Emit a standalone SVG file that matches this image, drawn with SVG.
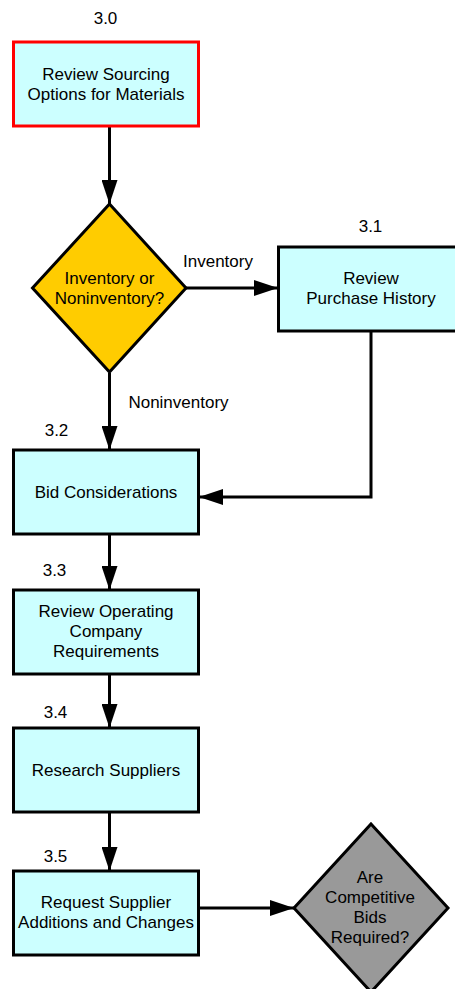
<svg xmlns="http://www.w3.org/2000/svg" width="455" height="989" viewBox="0 0 455 989">
  <style>
    text { font-family: "Liberation Sans", Arial, sans-serif; font-size: 17px; fill: #000; text-anchor: middle; }
    .box { fill: #CCFFFF; stroke: #000; stroke-width: 3; }
    .start { stroke: #FF0000; }
    .decision { fill: #FFCC00; stroke: #000; stroke-width: 3; stroke-linejoin: miter; }
    .decision.grey { fill: #999999; }
    .edge { fill: none; stroke: #000; stroke-width: 3; marker-end: url(#arrow); }
  </style>
  <defs>
    <marker id="arrow" markerUnits="userSpaceOnUse" markerWidth="24" markerHeight="16" refX="24" refY="8" orient="auto">
      <path d="M0,0 L24,8 L0,16 z" fill="#000"/>
    </marker>
  </defs>

  <!-- connectors -->
  <g id="connectors">
    <path class="edge" d="M109.5,127 L109.5,204"/>
    <path class="edge" d="M186,288 L278,288"/>
    <path class="edge" d="M109.5,373 L109.5,450"/>
    <path class="edge" d="M371,331 L371,497 L199,497"/>
    <path class="edge" d="M109.5,534 L109.5,590"/>
    <path class="edge" d="M109.5,674 L109.5,728"/>
    <path class="edge" d="M109.5,813 L109.5,871"/>
    <path class="edge" d="M199,908 L294,908"/>
    <text x="218" y="267">Inventory</text>
    <text x="178.5" y="408">Noninventory</text>
  </g>

  <!-- 3.0 -->
  <g id="n30">
    <text x="105.5" y="24">3.0</text>
    <rect class="box start" x="13.5" y="42" width="185" height="84"/>
    <text x="106" y="80">Review Sourcing</text>
    <text x="106" y="100">Options for Materials</text>
  </g>

  <!-- inventory decision -->
  <g id="d_inventory">
    <polygon class="decision" points="109.5,204 186,288 109.5,372 32.5,288"/>
    <text x="109.5" y="284">Inventory or</text>
    <text x="109.5" y="304">Noninventory?</text>
  </g>

  <!-- 3.1 -->
  <g id="n31">
    <text x="370.5" y="232">3.1</text>
    <rect class="box" x="278.5" y="247" width="190" height="84"/>
    <text x="371" y="284">Review</text>
    <text x="371" y="304">Purchase History</text>
  </g>

  <!-- 3.2 -->
  <g id="n32">
    <text x="56.5" y="436">3.2</text>
    <rect class="box" x="13.5" y="450" width="185" height="84"/>
    <text x="106" y="498">Bid Considerations</text>
  </g>

  <!-- 3.3 -->
  <g id="n33">
    <text x="54.5" y="576">3.3</text>
    <rect class="box" x="13.5" y="590" width="185" height="84"/>
    <text x="106" y="617">Review Operating</text>
    <text x="106" y="637">Company</text>
    <text x="106" y="657">Requirements</text>
  </g>

  <!-- 3.4 -->
  <g id="n34">
    <text x="55.5" y="718">3.4</text>
    <rect class="box" x="13.5" y="728" width="185" height="84"/>
    <text x="106" y="776">Research Suppliers</text>
  </g>

  <!-- 3.5 -->
  <g id="n35">
    <text x="55.5" y="862">3.5</text>
    <rect class="box" x="13.5" y="871" width="185" height="84"/>
    <text x="106" y="908">Request Supplier</text>
    <text x="106" y="928">Additions and Changes</text>
  </g>

  <!-- competitive bids decision -->
  <g id="d_bids">
    <polygon class="decision grey" points="371,824 448,908 371,992 294,908"/>
    <text x="370" y="883">Are</text>
    <text x="370" y="903">Competitive</text>
    <text x="370" y="923">Bids</text>
    <text x="370" y="943">Required?</text>
  </g>
</svg>
